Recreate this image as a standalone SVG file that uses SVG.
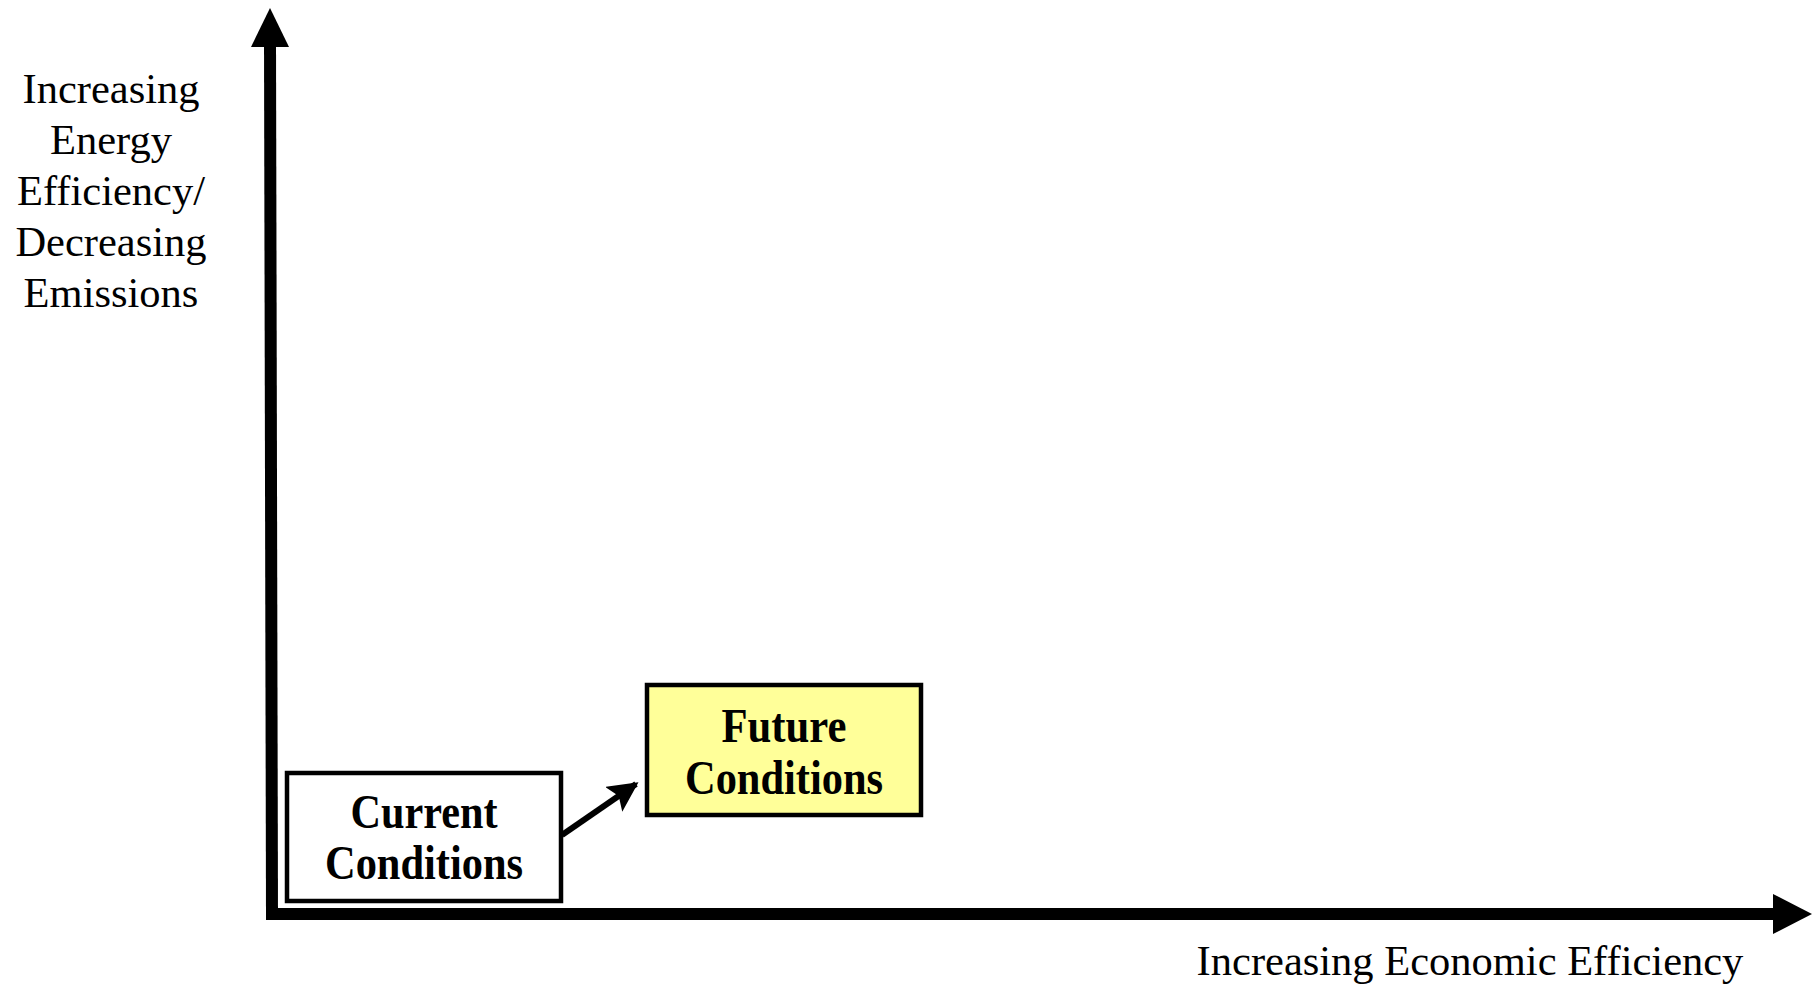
<svg xmlns="http://www.w3.org/2000/svg" width="1814" height="985" viewBox="0 0 1814 985">
<style>
.lbl{font-family:"Liberation Serif","Times New Roman",serif;font-size:42.5px;fill:#000;text-anchor:middle}
.node{font-family:"Liberation Serif","Times New Roman",serif;font-size:48px;font-weight:bold;fill:#000;text-anchor:middle}
.box{stroke:#000;stroke-width:4.5}
.axis{stroke:#000;stroke-width:12;fill:none}
</style>
<defs>
<marker id="ah" markerWidth="5" markerHeight="5" refX="4.5" refY="2.5" orient="auto" markerUnits="strokeWidth">
<path d="M0,0 L5,2.5 L0,5 L1,2.5 Z" fill="#000"/>
</marker>
</defs>
<rect width="1814" height="985" fill="#fff"/>
<g id="connectors">
<line class="axis" x1="272" y1="920" x2="270" y2="40"/>
<polygon points="270,8 251,47 289,47" fill="#000"/>
<line class="axis" x1="266" y1="914" x2="1780" y2="914"/>
<polygon points="1812,914 1773,894 1773,934" fill="#000"/>
<line x1="562" y1="835" x2="636" y2="784" stroke="#000" stroke-width="6" marker-end="url(#ah)"/>
</g>
<g id="y-label">
<text class="lbl" x="111" y="103">Increasing</text>
<text class="lbl" x="111" y="154">Energy</text>
<text class="lbl" x="111" y="205">Efficiency/</text>
<text class="lbl" x="111" y="256">Decreasing</text>
<text class="lbl" x="111" y="307">Emissions</text>
</g>
<g id="x-label">
<text class="lbl" x="1470" y="975">Increasing Economic Efficiency</text>
</g>
<g id="current">
<rect class="box" x="287" y="773" width="274" height="128" fill="#fff"/>
<text class="node" x="424" y="828" textLength="147" lengthAdjust="spacingAndGlyphs">Current</text>
<text class="node" x="424" y="879" textLength="198" lengthAdjust="spacingAndGlyphs">Conditions</text>
</g>
<g id="future">
<rect class="box" x="647" y="685" width="274" height="130" fill="#FFFF99"/>
<text class="node" x="784" y="742" textLength="125" lengthAdjust="spacingAndGlyphs">Future</text>
<text class="node" x="784" y="794" textLength="198" lengthAdjust="spacingAndGlyphs">Conditions</text>
</g>
</svg>
